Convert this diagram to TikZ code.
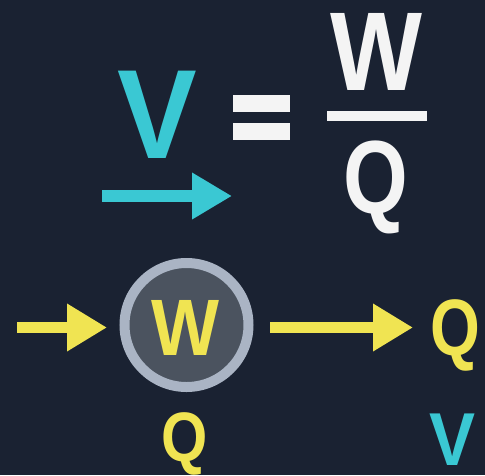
\documentclass[tikz,border=0pt]{standalone}
\usepackage{fontspec}
\setmainfont{Liberation Sans}
\usetikzlibrary{arrows.meta}
\definecolor{bg}{HTML}{1A2232}
\definecolor{cy}{HTML}{3AC8D3}
\definecolor{yl}{HTML}{F0E452}
\definecolor{wt}{HTML}{F4F4F4}
\definecolor{ring}{HTML}{AAB4C4}
\definecolor{disc}{HTML}{4B535F}
\tikzset{
  letter/.style={inner sep=0pt, anchor=base, font=\bfseries},
  yarrow/.style={draw=yl, line width=11pt, -{Triangle[length=40pt,width=45pt]}},
  carrow/.style={draw=cy, line width=12pt, -{Triangle[length=40pt,width=44pt]}},
}
\begin{document}
\begin{tikzpicture}[x=1pt,y=-1pt]
\fill[bg] (0,0) rectangle (485,475);
\useasboundingbox (0,0) rectangle (485,475);
% top formula
\node[letter, text=cy, font=\bfseries\fontsize{127}{127}\selectfont, xscale=0.94] (vtop) at (157,158) {V};
\fill[wt] (233,95) rectangle (290,112);
\fill[wt] (233,123) rectangle (290,140);
\node[letter, text=wt, font=\bfseries\fontsize{112}{112}\selectfont, xscale=0.87] (wnum) at (376,90) {W};
\fill[wt] (327,111) rectangle (427,121);
\node[letter, text=wt, font=\bfseries\fontsize{104}{104}\selectfont, xscale=0.8] (qden) at (376,213) {Q};
\coordinate (ca) at (102,196);
\coordinate (cb) at (232,196);
\draw[carrow] (ca) -- (cb);
% bottom diagram
\node[circle, draw=ring, fill=disc, line width=10pt, minimum size=124pt, inner sep=0pt] (circ) at (186.5,325) {};
\node[letter, text=yl, font=\bfseries\fontsize{80}{80}\selectfont, xscale=0.9] (wc) at (185,355) {W};
\coordinate (la) at (17,327.5);
\coordinate (lb) at (107,327.5);
\draw[yarrow] (la) -- (lb);
\coordinate (ra) at (270,327.5);
\coordinate (rb) at (413,327.5);
\draw[yarrow] (ra) -- (rb);
\node[letter, text=yl, font=\bfseries\fontsize{80}{80}\selectfont, xscale=0.8] (qr) at (455,355) {Q};
\node[letter, text=yl, font=\bfseries\fontsize{70}{70}\selectfont, xscale=0.85] (qb) at (185,461) {Q};
\node[letter, text=cy, text depth=0pt, font=\bfseries\fontsize{75}{75}\selectfont, xscale=0.92] (vb) at (453,465) {V};
\end{tikzpicture}
\end{document}
